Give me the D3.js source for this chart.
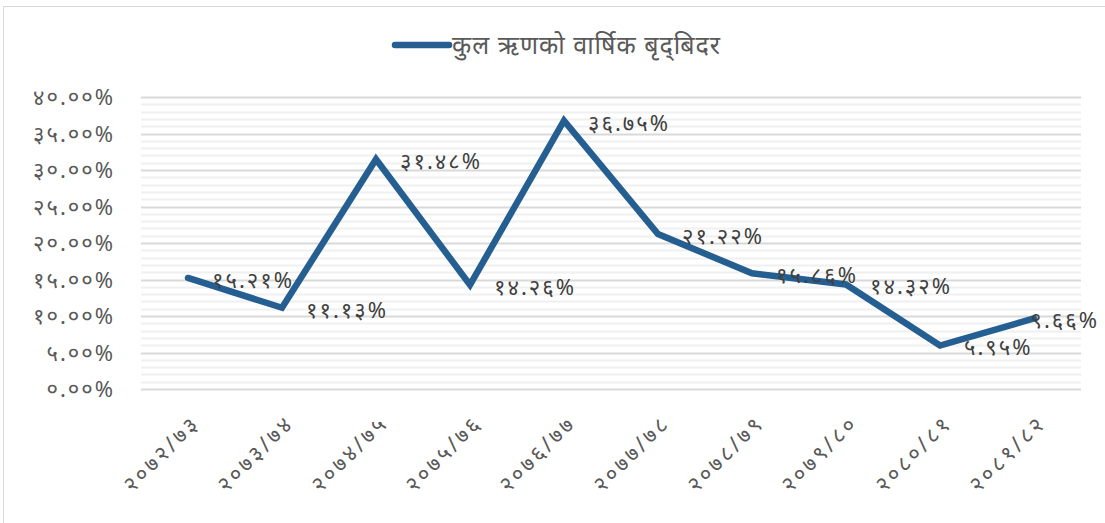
<!DOCTYPE html>
<html>
<head>
<meta charset="utf-8">
<script src="https://cdn.jsdelivr.net/npm/d3@7"></script>
<style>
  body { margin: 0; background: #fff; }
  text { font-family: "Noto Sans", "DejaVu Sans", sans-serif; fill: #595959; }
</style>
</head>
<body>
<svg id="chart"></svg>
<script>
const categories = ['२०७२/७३', '२०७३/७४', '२०७४/७५', '२०७५/७६', '२०७६/७७',
  '२०७७/७८', '२०७८/७९', '२०७९/८०', '२०८०/८१', '२०८१/८२'];
const growth = [15.21, 11.13, 31.48, 14.26, 36.75, 21.22, 15.86, 14.32, 5.95, 9.66];
const seriesName = 'कुल ऋणको वार्षिक बृद्‌बिदर';
const yTicks = [0, 5, 10, 15, 20, 25, 30, 35, 40];

const devDigits = '०१२३४५६७८९';
const toDev = s => String(s).replace(/[0-9]/g, d => devDigits[+d]);

const width = 1105, height = 523;
const margin = {top: 97, right: 24, bottom: 134, left: 141};
const innerW = width - margin.left - margin.right;
const innerH = height - margin.top - margin.bottom;

const svg = d3.select('#chart')
  .attr('width', width)
  .attr('height', height);

// outer chart border
svg.append('rect')
  .attr('x', 3.5).attr('y', 6.5)
  .attr('width', width).attr('height', height)
  .attr('fill', 'none')
  .attr('stroke', '#d9d9d9');

const chart = svg.append('g')
  .attr('transform', `translate(${margin.left},${margin.top})`);

const x = d3.scaleBand().domain(categories).range([0, innerW]);
const y = d3.scaleLinear().domain([0, 40]).range([innerH, 0]);

// minor gridlines every 1%
chart.append('g')
  .selectAll('line')
  .data(d3.range(0, 41).filter(v => v % 5 !== 0))
  .join('line')
  .attr('x1', 0).attr('x2', innerW)
  .attr('y1', d => Math.round(y(d)) + 0.5).attr('y2', d => Math.round(y(d)) + 0.5)
  .attr('stroke', '#f0f0f0').attr('stroke-width', 2);

// major gridlines
chart.append('g')
  .selectAll('line')
  .data(yTicks)
  .join('line')
  .attr('x1', 0).attr('x2', innerW)
  .attr('y1', d => Math.round(y(d)) + 0.5).attr('y2', d => Math.round(y(d)) + 0.5)
  .attr('stroke', '#d9d9d9').attr('stroke-width', 2);

// y axis
const yAxis = d3.axisLeft(y)
  .tickValues(yTicks)
  .tickSize(0)
  .tickPadding(26)
  .tickFormat(d => toDev(d.toFixed(2)) + '%');
const yAxisG = chart.append('g').call(yAxis);
yAxisG.select('.domain').remove();
yAxisG.selectAll('text')
  .attr('font-size', 22)
  .attr('letter-spacing', 2)
  .attr('dy', '0.35em');

// x axis
const xAxis = d3.axisBottom(x).tickSize(0).tickPadding(0);
const xAxisG = chart.append('g')
  .attr('transform', `translate(0,${innerH})`)
  .call(xAxis);
xAxisG.select('.domain').remove();
xAxisG.selectAll('text')
  .attr('font-size', 22)
  .attr('letter-spacing', 3)
  .attr('text-anchor', 'end')
  .attr('dy', '0.35em')
  .attr('transform', 'translate(8,30) rotate(-45)');

// line
const line = d3.line()
  .x((d, i) => x(categories[i]) + x.bandwidth() / 2)
  .y(d => y(d));

chart.append('path')
  .datum(growth)
  .attr('fill', 'none')
  .attr('stroke', '#255e91')
  .attr('stroke-width', 6.5)
  .attr('stroke-linejoin', 'miter')
  .attr('stroke-linecap', 'round')
  .attr('d', line);

// data labels, kept inside the chart area
chart.append('g')
  .selectAll('text')
  .data(growth)
  .join('text')
  .attr('x', (d, i) => x(categories[i]) + x.bandwidth() / 2 + 24)
  .attr('y', d => y(d))
  .attr('dy', '0.45em')
  .attr('font-size', 22)
  .attr('letter-spacing', 2)
  .style('fill', '#404040')
  .text(d => toDev(d.toFixed(2)) + '%')
  .each(function() {
    const t = d3.select(this);
    const maxX = width - margin.left - 6;
    const w = this.getComputedTextLength();
    if (+t.attr('x') + w > maxX) t.attr('x', maxX - w);
  });

// legend
const legend = svg.append('g').attr('transform', 'translate(395,45)');
legend.append('line')
  .attr('x1', 0).attr('x2', 54)
  .attr('stroke', '#255e91')
  .attr('stroke-width', 6.5)
  .attr('stroke-linecap', 'round');
legend.append('text')
  .attr('x', 57)
  .attr('dy', '0.35em')
  .attr('font-size', 25)
  .attr('letter-spacing', 1)
  .text(seriesName);
</script>
</body>
</html>
